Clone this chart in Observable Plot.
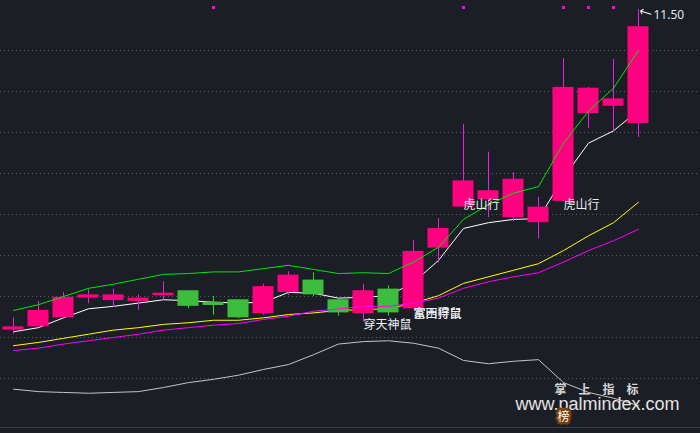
<!DOCTYPE html>
<html><head><meta charset="utf-8">
<script src="https://cdn.jsdelivr.net/npm/d3@7"></script>
<script src="https://cdn.jsdelivr.net/npm/@observablehq/plot@0.6"></script>
<style>html,body{margin:0;padding:0;background:#1c1e26;overflow:hidden}</style>
</head><body><div id="chart"></div>
<script>
// Candle data (price units)
const opens  = [7.59, 7.63, 7.74, 7.98, 7.95, 7.94, 8.01, 8.07, 7.93, 7.96, 7.79, 8.05, 8.20, 7.96, 7.79, 8.09, 7.85, 8.59, 9.09, 9.18, 8.96, 8.90, 9.16, 10.23, 10.32, 10.11];
const closes = [7.63, 7.83, 7.99, 8.02, 8.02, 7.98, 8.04, 7.88, 7.89, 7.74, 8.12, 8.26, 8.02, 7.80, 8.07, 7.80, 8.55, 8.83, 9.41, 9.29, 9.43, 9.09, 10.55, 10.54, 10.41, 11.29];
const highs  = [7.74, 7.94, 8.05, 8.09, 8.09, 8.02, 8.18, 8.07, 8.00, 7.96, 8.15, 8.30, 8.29, 7.96, 8.15, 8.13, 8.68, 8.95, 10.10, 9.76, 9.51, 9.21, 10.90, 10.55, 10.89, 11.50];
const lows   = [7.54, 7.63, 7.74, 7.91, 7.87, 7.83, 7.96, 7.85, 7.77, 7.73, 7.77, 8.01, 8.00, 7.76, 7.69, 7.76, 7.85, 8.41, 9.09, 8.96, 8.91, 8.70, 9.16, 10.05, 10.02, 9.94];

// Indicator lines
const lineGreen   = [7.83, 7.90, 8.00, 8.10, 8.15, 8.21, 8.27, 8.28, 8.30, 8.30, 8.34, 8.38, 8.33, 8.28, 8.29, 8.28, 8.42, 8.60, 8.94, 9.12, 9.26, 9.34, 9.87, 10.26, 10.54, 11.00];
const lineWhite   = [7.57, 7.62, 7.74, 7.85, 7.88, 7.92, 7.96, 7.95, 7.93, 7.92, 7.93, 8.05, 8.04, 7.98, 7.99, 8.01, 8.17, 8.44, 8.83, 8.90, 8.94, 8.95, 9.45, 9.87, 10.02, 10.27];
const lineYellow  = [7.40, 7.44, 7.49, 7.54, 7.59, 7.62, 7.66, 7.68, 7.71, 7.71, 7.74, 7.78, 7.80, 7.83, 7.84, 7.85, 7.92, 8.01, 8.16, 8.24, 8.32, 8.40, 8.56, 8.74, 8.90, 9.15];
const lineMagenta = [7.34, 7.37, 7.42, 7.46, 7.50, 7.54, 7.59, 7.62, 7.65, 7.67, 7.72, 7.76, 7.82, 7.85, 7.88, 7.88, 7.92, 7.98, 8.10, 8.18, 8.24, 8.29, 8.42, 8.56, 8.68, 8.82];
const lineGray    = [6.87, 6.84, 6.83, 6.82, 6.83, 6.84, 6.89, 6.95, 6.99, 7.04, 7.11, 7.17, 7.29, 7.42, 7.45, 7.46, 7.43, 7.37, 7.22, 7.18, 7.21, 7.23, 6.95, 6.83, 6.76, 6.67];

// Signal markers (candle indexes)
const signalIdx = [8, 18, 22, 23, 24];

// Annotations
const labelText  = ["穿天神鼠", "家田得鼠", "富西狩鼠", "虎山行", "虎山行"];
const labelIdx   = [14, 16, 16, 18, 22];
const labelPrice = [7.65, 7.78, 7.78, 9.11, 9.11];

const peakIdx = 25;
const peakText = "11.50";

// Grid levels
const gridLevels = [11.0, 10.5, 10.0, 9.5, 9.0, 8.5, 8.0, 7.5, 7.0];

// Watermark
const brandCn = "掌　上　指　标";
const brandUrl = "www.palmindex.com";
const brandTag = "榜";

const candles = opens.map((o, i) => ({i, open: o, close: closes[i], high: highs[i], low: lows[i], up: closes[i] >= o}));
const labels = labelText.map((t, k) => ({t, i: labelIdx[k], p: labelPrice[k]}));
const peak = [{i: peakIdx, p: highs[peakIdx], t: peakText}];

const line = (arr, color) => Plot.line(arr, {x: (d, i) => i, y: d => d, stroke: color, strokeWidth: 1});

const chart = Plot.plot({
  width: 700, height: 433,
  marginTop: 0, marginRight: 0, marginBottom: 6, marginLeft: 0,
  style: {background: "#1c1e26", overflow: "visible"},
  x: {type: "linear", domain: [-0.52, 27.48], axis: null},
  y: {domain: [6.4024, 11.6098], axis: null},
  marks: [
    Plot.ruleY(gridLevels, {stroke: "#5a5d66", strokeDasharray: "1,3"}),
    Plot.frame({anchor: "bottom", stroke: "#3b3e49"}),
    line(lineGray, "#c4c4c4"),
    line(lineWhite, "#ffffff"),
    line(lineYellow, "#ffff00"),
    Plot.ruleX(candles, {x: "i", y1: "low", y2: "high", stroke: d => d.up ? "#e61ee6" : "#22dd22"}),
    Plot.rect(candles, {x1: d => d.i - 0.42, x2: d => d.i + 0.42, y1: "open", y2: "close", fill: d => d.up ? "#ff0080" : "#3dbd3d"}),
    line(lineMagenta, "#ff00ff"),
    line(lineGreen, "#00e600"),
    Plot.dot(signalIdx, {x: d => d, frameAnchor: "top", dy: 7, symbol: "square", r: 1.7, fill: "#ff00ff", stroke: null}),
    Plot.text(labels, {x: "i", y: "p", text: "t", textAnchor: "start", lineAnchor: "middle", fill: "#eef0f5", fontSize: 12, fontFamily: "Noto Sans CJK SC"}),
    Plot.vector(peak, {x: "i", y: "p", length: 11, rotate: 287, anchor: "end", dx: 2, dy: 1.5, stroke: "#ffffff", strokeWidth: 1}),
    Plot.text(peak, {x: "i", y: "p", text: "t", textAnchor: "start", dx: 15, dy: 5.5, fill: "#dce8f6", fontSize: 12, fontFamily: "Noto Sans"}),
    Plot.text([brandCn], {frameAnchor: "bottom-left", dx: 596, dy: -34, text: d => d, textAnchor: "middle", fill: "#d6d6d6", fontSize: 12, fontWeight: "bold", fontFamily: "Noto Sans CJK SC"}),
    Plot.text([brandUrl], {frameAnchor: "bottom-left", dx: 597, dy: -18, text: d => d, textAnchor: "middle", fill: "#e4e4e4", fontSize: 18, fontFamily: "Liberation Sans"}),
    Plot.text([brandTag], {frameAnchor: "bottom-left", dx: 563, dy: -7, text: d => d, textAnchor: "middle", fill: "#ffffff", stroke: "#7a3e0c", strokeWidth: 5, paintOrder: "stroke", fontSize: 12, fontFamily: "Noto Sans CJK SC"})
  ]
});
document.getElementById("chart").appendChild(chart);
</script>
</body></html>
